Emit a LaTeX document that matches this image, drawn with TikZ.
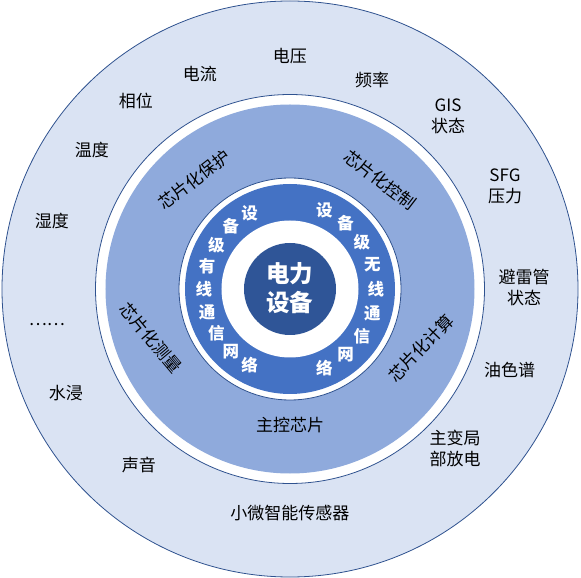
\documentclass[tikz,border=0pt]{standalone}
\usepackage{fontspec}
\setmainfont{Noto Sans CJK SC}
\usetikzlibrary{calc}
\definecolor{ringout}{HTML}{DAE3F3}
\definecolor{ringmid}{HTML}{8FAADC}
\definecolor{ringin}{HTML}{4472C4}
\definecolor{core}{HTML}{2F5597}
\definecolor{edgeblue}{HTML}{2F528F}

\begin{document}
\begin{tikzpicture}[x=1pt, y=1pt,
		sensor/.style={font=\fontsize{17}{21}\selectfont, align=center, text=black, inner sep=0pt},
		chip/.style={font=\fontsize{17}{20}\selectfont, text=black, inner sep=0pt},
		net/.style={font=\fontsize{16.5}{16.5}\selectfont\bfseries, text=white, inner sep=0pt},
		ringline/.style={draw=edgeblue, line width=0.8pt}]
			\def\rOut{288}
			\def\rGapA{194.5}
			\def\rMid{184.5}
			\def\rGapB{111}
			\def\rIn{105}
			\def\rGapC{68.5}
			\def\rCore{46}
			\def\rNet{86}
			\coordinate (O) at (0,0);
			\useasboundingbox (-290,-289) rectangle (291,289);
			
			% Rings, outside in
			\draw[ringline, fill=ringout] (O) circle[radius=\rOut];
			\draw[ringline, fill=white] (O) circle[radius=\rGapA];
			\fill[ringmid] (O) circle[radius=\rMid];
			\draw[ringline, fill=white] (O) circle[radius=\rGapB];
			\fill[ringin] (O) circle[radius=\rIn];
			\fill[white] (O) circle[radius=\rGapC];
			\fill[core] (O) circle[radius=\rCore];
			
			% Core
			\node[font=\fontsize{23.5}{29}\selectfont\bfseries, text=white, align=center] (dev) at (0,1) {电力\\设备};
			
			% Network ring, one character at a time
			\foreach \ch [count=\i from 0] in {设,备,级,有,线,通,信,网,络}
				\node[net] (wired\i) at ({118+15.5*\i}:\rNet) {\ch};
			\foreach \ch [count=\i from 0] in {设,备,级,无,线,通,信,网,络}
				\node[net] (wless\i) at ({66.4-16.6*\i}:\rNet) {\ch};
			
			% Chip ring
			\node[chip, rotate=37.5] (prot) at (-96,109) {芯片化保护};
			\node[chip, rotate=-37.5] (ctrl) at (90,109) {芯片化控制};
			\node[chip, rotate=-50] (meas) at (-139,-48.5) {芯片化测量};
			\node[chip, rotate=46] (comp) at (131,-59) {芯片化计算};
			\node[chip] (mcu) at (0,-136) {主控芯片};
			
			% Sensors
			\node[sensor] (volt) at (0,233) {电压};
			\node[sensor] (curr) at (-90,215) {电流};
			\node[sensor] (freq) at (82,209) {频率};
			\node[sensor] (phase) at (-154,188) {相位};
			\node[sensor] (gis) at (158,172.5) {GIS\\状态};
			\node[sensor] (temp) at (-198,139) {温度};
			\node[sensor] (sfg) at (215,102.5) {SFG\\压力};
			\node[sensor] (hum) at (-238,68) {湿度};
			\node[sensor] (arr) at (234,2) {避雷管\\状态};
			\node[sensor] (more) at (-243,-36) {……};
			\node[sensor] (oil) at (219.5,-81) {油色谱};
			\node[sensor] (water) at (-224,-104) {水浸};
			\node[sensor] (pd) at (165,-159) {主变局\\部放电};
			\node[sensor] (sound) at (-151,-176) {声音};
			\node[sensor] (micro) at (0,-224) {小微智能传感器};
	\end{tikzpicture}
\end{document}
